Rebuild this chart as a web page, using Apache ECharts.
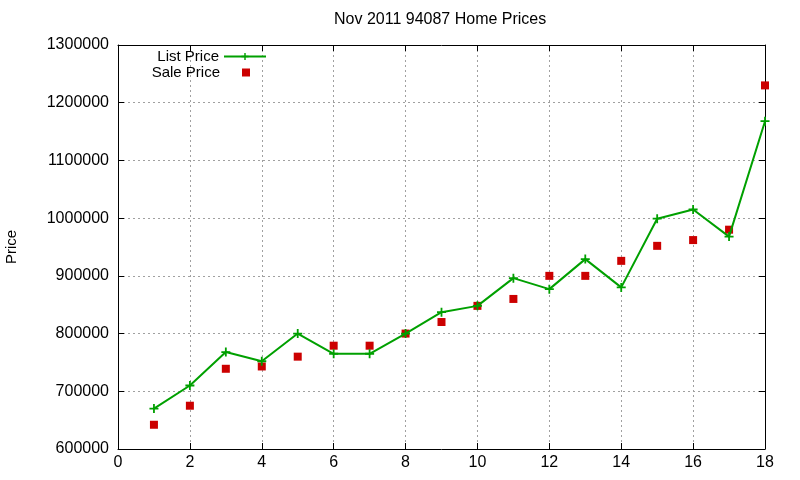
<!DOCTYPE html>
<html>
<head>
<meta charset="utf-8">
<title>Nov 2011 94087 Home Prices</title>
<script src="https://cdn.jsdelivr.net/npm/echarts@6/dist/echarts.min.js"></script>
<style>
  html, body { margin: 0; padding: 0; background: #fff; }
  #chart { width: 800px; height: 480px; }
</style>
</head>
<body>
<div id="chart"></div>
<script>
// month index of the sample
var months = [1, 2, 3, 4, 5, 6, 7, 8, 9, 10, 11, 12, 13, 14, 15, 16, 17, 18];
var listPrice = [670000, 710000, 768000, 752000, 800000, 765000, 765000, 800000, 837000,
                 848000, 896000, 877000, 929000, 880000, 999000, 1015000, 968000, 1168000];
var salePrice = [642000, 675000, 739000, 743000, 760000, 779000, 779000, 800000, 820000,
                 848000, 860000, 900000, 900000, 926000, 952000, 962000, 980000, 1230000];
var xTicks = [0, 2, 4, 6, 8, 10, 12, 14, 16, 18];
var yTicks = [600000, 700000, 800000, 900000, 1000000, 1100000, 1200000, 1300000];

var FONT = 'Liberation Sans, Arial, sans-serif';
var PLUS = 'path://M4,0 H6 V4 H10 V6 H6 V10 H4 V6 H0 V4 H4 Z';
var SQUARE = 'path://M0,0 H10 V10 H0 Z';

function pairs(xs, ys) {
    return xs.map(function (x, i) { return [x, ys[i]]; });
}

window.onload = function () {
    var myChart = echarts.init(document.getElementById('chart'));

    var gridLine = { show: true, lineStyle: { color: '#a0a0a0', type: [2, 3], width: 1 } };
    var boxLine = { show: true, onZero: false, lineStyle: { color: '#000', width: 1 } };
    var inTick = { show: true, inside: true, length: 6, lineStyle: { color: '#000' } };

    var option = {
        animation: false,
        backgroundColor: '#fff',
        title: {
            text: 'Nov 2011 94087 Home Prices',
            left: 334,
            top: 12,
            padding: 0,
            textStyle: { fontFamily: FONT, fontSize: 16, fontWeight: 'normal', color: '#000' }
        },
        legend: [
            {
                data: ['List Price'],
                orient: 'vertical',
                align: 'right',
                right: 533,
                top: 49,
                padding: 0,
                itemWidth: 42,
                itemHeight: 9,
                textStyle: { fontFamily: FONT, fontSize: 15, color: '#000' }
            },
            {
                data: [{ name: 'Sale Price', icon: SQUARE }],
                orient: 'vertical',
                align: 'right',
                right: 550,
                top: 65,
                padding: 0,
                itemWidth: 42,
                itemHeight: 8,
                symbolKeepAspect: true,
                textStyle: { fontFamily: FONT, fontSize: 15, color: '#000' }
            }
        ],
        grid: { left: 118, right: 35, top: 45, bottom: 31, outerBoundsMode: 'none', containLabel: false },
        xAxis: [
            {
                type: 'value',
                position: 'bottom',
                min: xTicks[0],
                max: xTicks[xTicks.length - 1],
                interval: xTicks[1] - xTicks[0],
                axisLine: boxLine,
                axisTick: inTick,
                splitLine: gridLine,
                axisLabel: { color: '#000', fontFamily: FONT, fontSize: 16, margin: 6 }
            },
            {
                type: 'value',
                position: 'top',
                min: xTicks[0],
                max: xTicks[xTicks.length - 1],
                interval: xTicks[1] - xTicks[0],
                axisLine: boxLine,
                axisTick: inTick,
                splitLine: { show: false },
                axisLabel: { show: false }
            }
        ],
        yAxis: [
            {
                type: 'value',
                position: 'left',
                min: yTicks[0],
                max: yTicks[yTicks.length - 1],
                interval: yTicks[1] - yTicks[0],
                name: 'Price',
                nameLocation: 'middle',
                nameRotate: 90,
                nameGap: 99,
                nameTextStyle: { fontFamily: FONT, fontSize: 15, color: '#000' },
                axisLine: boxLine,
                axisTick: inTick,
                splitLine: gridLine,
                axisLabel: {
                    color: '#000', fontFamily: FONT, fontSize: 16, margin: 9,
                    formatter: function (v) { return String(v); }
                }
            },
            {
                type: 'value',
                position: 'right',
                min: yTicks[0],
                max: yTicks[yTicks.length - 1],
                interval: yTicks[1] - yTicks[0],
                axisLine: boxLine,
                axisTick: inTick,
                splitLine: { show: false },
                axisLabel: { show: false }
            }
        ],
        series: [
            {
                name: 'List Price',
                type: 'line',
                data: pairs(months, listPrice),
                symbol: PLUS,
                symbolSize: 9,
                showSymbol: true,
                color: '#00a000',
                lineStyle: { color: '#00a000', width: 2 },
                itemStyle: { color: '#00a000', borderWidth: 0 },
                z: 3
            },
            {
                name: 'Sale Price',
                type: 'scatter',
                data: pairs(months, salePrice),
                symbol: SQUARE,
                symbolSize: 8,
                color: '#cc0000',
                itemStyle: { color: '#cc0000', opacity: 1 },
                z: 2
            }
        ]
    };
    myChart.setOption(option, true);
};
</script>
</body>
</html>
